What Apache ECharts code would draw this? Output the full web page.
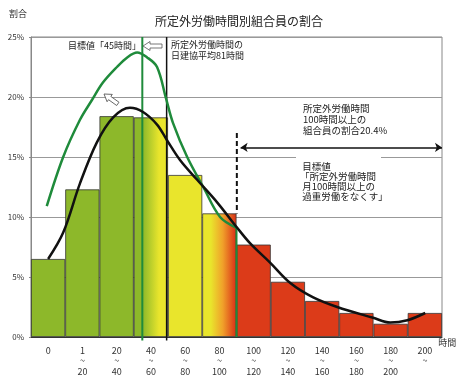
<!DOCTYPE html>
<html><head><meta charset="utf-8">
<script src="https://cdn.jsdelivr.net/npm/echarts@6/dist/echarts.min.js"></script>
<style>html,body{margin:0;padding:0;background:#fff}#c{width:464px;height:383px}</style>
</head><body><div id="c"></div>
<script>
// ---- data ----
const categories = ['0','1~20','20~40','40~60','60~80','80~100','100~120','120~140','140~160','160~180','180~200','200~'];
const xTickLabels = ['0','1\n~\n20','20\n~\n40','40\n~\n60','60\n~\n80','80\n~\n100','100\n~\n120','120\n~\n140','140\n~\n160','160\n~\n180','180\n~\n200','200\n~'];
const shares = [6.5, 12.3, 18.4, 18.3, 13.5, 10.3, 7.7, 4.6, 3.0, 2.0, 1.1, 2.0];
const yTicks = [0, 5, 10, 15, 20, 25];
// black curve (actual distribution), x in bin units 0..12, y in %
const actualX = [0.5, 0.94, 1.43, 1.92, 2.40, 2.89, 3.27, 3.68, 3.97, 4.35, 4.85, 5.44, 6.02, 6.40, 6.98, 7.57, 8.24, 8.94, 9.99, 10.49, 10.99, 11.51];
const actualY = [6.5, 8.7, 12.8, 16.2, 18.3, 19.1, 18.75, 17.7, 16.4, 14.75, 13.1, 11.2, 9.1, 7.8, 6.2, 4.5, 3.3, 2.5, 1.6, 1.2, 1.4, 2.0];
// green curve (target distribution)
const targetX = [0.46, 0.94, 1.43, 1.78, 2.10, 2.51, 2.81, 3.10, 3.39, 3.68, 3.94, 4.15, 4.56, 5.03, 5.52, 6.0];
const targetY = [10.9, 15.0, 18.1, 19.75, 21.2, 22.5, 23.3, 23.7, 23.3, 22.5, 19.9, 17.8, 15.0, 12.5, 10.0, 9.1];
// reference positions (bin units)
const goal45X = 3.25;      // 目標値「45時間」
const avg81X = 3.96;       // 日建協平均81時間
const over100X = 6.01;     // 100時間 boundary
const dashTop = 17.0, dashBottom = 10.3;
const arrowY = 15.8;

// ---- colours ----
const GREEN = '#8db82a', YELLOW = '#e9e52c', RED = '#dc3b19', ORANGE = '#f0a02a';
function grad(stops){ return {type:'linear', x:0, y:0, x2:1, y2:0, colorStops: stops.map(s=>({offset:s[0], color:s[1]}))}; }
const barColors = [GREEN, GREEN, GREEN,
  grad([[0,GREEN],[0.26,GREEN],[0.74,YELLOW],[1,YELLOW]]),
  YELLOW,
  grad([[0,YELLOW],[0.25,YELLOW],[0.6,ORANGE],[0.95,RED],[1,RED]]),
  RED, RED, RED, RED, RED, RED];

const FONT = '"Noto Sans CJK JP", "Noto Sans", sans-serif';
const chart = echarts.init(document.getElementById('c'), null, {renderer:'canvas'});

const zip = (xs, ys) => xs.map((x,i)=>[x, ys[i]]);

chart.setOption({
  animation: false,
  backgroundColor: '#fff',
  textStyle: {fontFamily: FONT},
  title: {
    text: '所定外労働時間別組合員の割合',
    left: 155, top: 15, padding: 0,
    textStyle: {fontSize: 12, fontWeight: 'normal', color: '#222', fontFamily: FONT}
  },
  grid: {left: 31, right: 22, top: 37, bottom: 46, show: true, borderColor: '#888', borderWidth: 1, backgroundColor: 'transparent'},
  xAxis: [{
    type: 'category', data: categories, position: 'bottom',
    name: '時間', nameLocation: 'end', nameGap: -4,
    nameTextStyle: {fontSize: 9, color: '#333', verticalAlign: 'top', padding: [1,0,0,0], fontFamily: FONT},
    axisLine: {lineStyle: {color: '#333', width: 1}},
    axisTick: {show: false},
    axisLabel: {interval: 0, fontSize: 9, lineHeight: 10.5, color: '#333', margin: 8,
      formatter: (v, i) => xTickLabels[i]},
    splitLine: {show: false}
  }, {
    type: 'value', min: 0, max: 12, show: false, position: 'bottom'
  }],
  yAxis: {
    type: 'value', min: yTicks[0], max: yTicks[yTicks.length-1], interval: 5,
    name: '割合', nameLocation: 'end', nameGap: 19,
    nameTextStyle: {fontSize: 9, color: '#333', align: 'right', padding: [0, 4, 0, 0], fontFamily: FONT},
    axisLine: {show: true, lineStyle: {color: '#888'}},
    axisTick: {show: true, length: 2, lineStyle: {color: '#888'}},
    axisLabel: {fontSize: 8, color: '#333', margin: 7, formatter: '{value}%'},
    splitLine: {lineStyle: {color: '#999', width: 1}}
  },
  series: [
    {
      type: 'bar', xAxisIndex: 0, barCategoryGap: '0%', z: 2,
      data: shares.map((v,i)=>({value: v, itemStyle: {color: barColors[i]}})),
      itemStyle: {borderColor: '#333', borderWidth: 0.8}
    },
    {
      type: 'line', xAxisIndex: 1, data: zip(targetX, targetY), smooth: 0.35, symbol: 'none', z: 5,
      lineStyle: {color: '#1f8b3b', width: 2.5}
    },
    {
      type: 'line', xAxisIndex: 1, data: [[targetX[targetX.length-1], targetY[targetY.length-1]], [targetX[targetX.length-1], 0]], symbol: 'none', z: 5,
      lineStyle: {color: '#1f8b3b', width: 2}
    },
    {
      type: 'line', xAxisIndex: 1, data: zip(actualX, actualY), smooth: 0.35, symbol: 'none', z: 6,
      lineStyle: {color: '#111', width: 2.5}
    },
    {
      type: 'line', xAxisIndex: 1, data: [[goal45X, -0.3], [goal45X, 25]], symbol: 'none', z: 4, clip: false,
      lineStyle: {color: '#1f8b3b', width: 2}
    },
    {
      type: 'line', xAxisIndex: 1, data: [[avg81X, -0.3], [avg81X, 25]], symbol: 'none', z: 4, clip: false,
      lineStyle: {color: '#111', width: 1.5}
    },
    {
      type: 'line', xAxisIndex: 1, data: [[over100X, dashTop], [over100X, dashBottom]], symbol: 'none', z: 4,
      lineStyle: {color: '#111', width: 2, type: [5, 3]}
    },
    {
      type: 'line', xAxisIndex: 1, data: [], symbol: 'none',
      markLine: {
        silent: true, symbol: ['arrow', 'arrow'], symbolSize: [7, 7], label: {show: false},
        lineStyle: {color: '#111', width: 1.5, type: 'solid'},
        data: [[{coord: [over100X + 0.11, arrowY]}, {coord: [12, arrowY]}]]
      }
    }
  ],
  graphic: [
    {type: 'text', x: 141, y: 46, style: {text: '目標値「45時間」', font: '9px ' + FONT, fill: '#222', align: 'right', verticalAlign: 'middle'}, z: 20},
    {type: 'polygon', x: 143, y: 46, z: 20,
      shape: {points: [[0,0],[7,-4.5],[7,-2],[19,-2],[19,2],[7,2],[7,4.5]]},
      style: {fill: '#fff', stroke: '#555', lineWidth: 0.8}},
    {type: 'polygon', x: 104, y: 94, rotation: -0.62, z: 20,
      shape: {points: [[0,0],[7,-4.5],[7,-2],[17,-2],[17,2],[7,2],[7,4.5]]},
      style: {fill: '#fff', stroke: '#555', lineWidth: 0.8}},
    {type: 'text', x: 171, y: 39.5, style: {text: '所定外労働時間の\n日建協平均81時間', font: '9px ' + FONT, fill: '#222', lineHeight: 11, verticalAlign: 'top'}, z: 20},
    {type: 'text', x: 303, y: 103, style: {text: '所定外労働時間\n100時間以上の\n組合員の割合20.4%', font: '9.5px ' + FONT, fill: '#222', lineHeight: 11, verticalAlign: 'top'}, z: 20},
    {type: 'rect', shape: {x: 296, y: 152, width: 85, height: 48}, style: {fill: '#fff'}, z: 19},
    {type: 'text', x: 300, y: 161, style: {text: ' 目標値\n「所定外労働時間\n 月100時間以上の\n 過重労働をなくす」', font: '9.5px ' + FONT, fill: '#222', lineHeight: 10, verticalAlign: 'top'}, z: 20}
  ]
});
</script>
</body></html>
